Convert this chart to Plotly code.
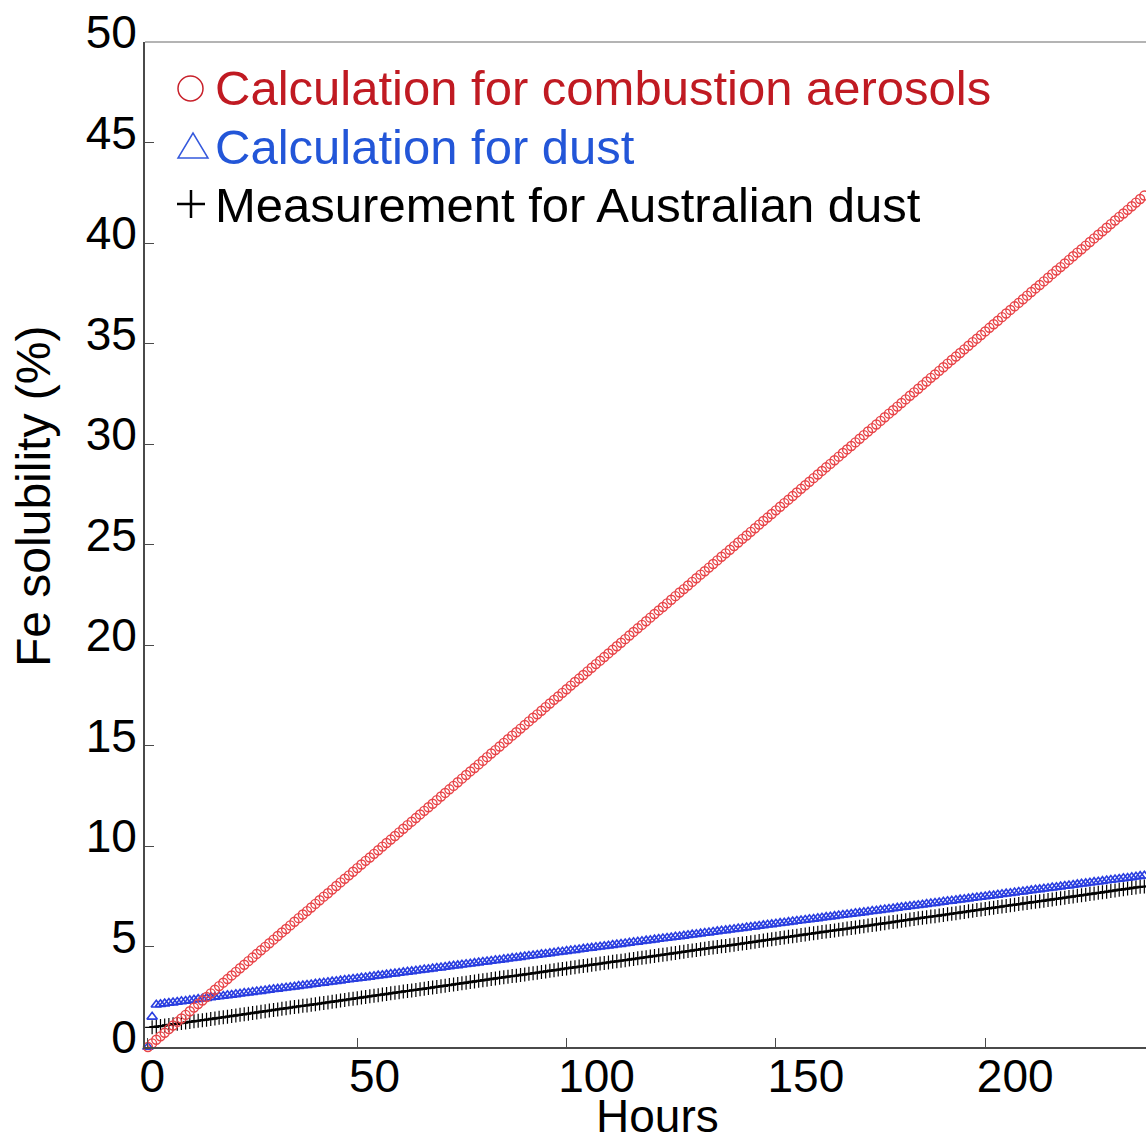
import plotly.graph_objects as go

# ---------------- data ----------------
hours = list(range(241))

combustion = [
    0, 0.18, 0.36, 0.53, 0.71, 0.89, 1.07, 1.25, 1.42, 1.60,
    1.78, 1.96, 2.14, 2.31, 2.49, 2.67, 2.85, 3.03, 3.20, 3.38,
    3.56, 3.74, 3.92, 4.09, 4.27, 4.45, 4.63, 4.81, 4.98, 5.16,
    5.34, 5.52, 5.70, 5.87, 6.05, 6.23, 6.41, 6.59, 6.76, 6.94,
    7.12, 7.30, 7.48, 7.65, 7.83, 8.01, 8.19, 8.37, 8.54, 8.72,
    8.90, 9.08, 9.26, 9.43, 9.61, 9.79, 9.97, 10.15, 10.32, 10.50,
    10.68, 10.86, 11.04, 11.21, 11.39, 11.57, 11.75, 11.93, 12.10, 12.28,
    12.46, 12.64, 12.82, 12.99, 13.17, 13.35, 13.53, 13.71, 13.88, 14.06,
    14.24, 14.42, 14.60, 14.77, 14.95, 15.13, 15.31, 15.49, 15.66, 15.84,
    16.02, 16.20, 16.38, 16.55, 16.73, 16.91, 17.09, 17.27, 17.44, 17.62,
    17.80, 17.98, 18.16, 18.33, 18.51, 18.69, 18.87, 19.05, 19.22, 19.40,
    19.58, 19.76, 19.94, 20.11, 20.29, 20.47, 20.65, 20.83, 21.00, 21.18,
    21.36, 21.54, 21.72, 21.89, 22.07, 22.25, 22.43, 22.61, 22.78, 22.96,
    23.14, 23.32, 23.50, 23.67, 23.85, 24.03, 24.21, 24.39, 24.56, 24.74,
    24.92, 25.10, 25.28, 25.45, 25.63, 25.81, 25.99, 26.17, 26.34, 26.52,
    26.70, 26.88, 27.06, 27.23, 27.41, 27.59, 27.77, 27.95, 28.12, 28.30,
    28.48, 28.66, 28.84, 29.01, 29.19, 29.37, 29.55, 29.73, 29.90, 30.08,
    30.26, 30.44, 30.62, 30.79, 30.97, 31.15, 31.33, 31.51, 31.68, 31.86,
    32.04, 32.22, 32.40, 32.57, 32.75, 32.93, 33.11, 33.29, 33.46, 33.64,
    33.82, 34.00, 34.18, 34.35, 34.53, 34.71, 34.89, 35.07, 35.24, 35.42,
    35.60, 35.78, 35.96, 36.13, 36.31, 36.49, 36.67, 36.85, 37.02, 37.20,
    37.38, 37.56, 37.74, 37.91, 38.09, 38.27, 38.45, 38.63, 38.80, 38.98,
    39.16, 39.34, 39.52, 39.69, 39.87, 40.05, 40.23, 40.41, 40.58, 40.76,
    40.94, 41.12, 41.30, 41.47, 41.65, 41.83, 42.01, 42.19, 42.36, 42.54,
    42.72,
]

dust_calc = [
    0, 1.5, 2.10, 2.13, 2.16, 2.19, 2.21, 2.24, 2.27, 2.29,
    2.32, 2.35, 2.38, 2.40, 2.43, 2.46, 2.49, 2.51, 2.54, 2.57,
    2.59, 2.62, 2.65, 2.68, 2.70, 2.73, 2.76, 2.78, 2.81, 2.84,
    2.87, 2.89, 2.92, 2.95, 2.97, 3.00, 3.03, 3.06, 3.08, 3.11,
    3.14, 3.17, 3.19, 3.22, 3.25, 3.27, 3.30, 3.33, 3.36, 3.38,
    3.41, 3.44, 3.46, 3.49, 3.52, 3.55, 3.57, 3.60, 3.63, 3.65,
    3.68, 3.71, 3.74, 3.76, 3.79, 3.82, 3.85, 3.87, 3.90, 3.93,
    3.95, 3.98, 4.01, 4.04, 4.06, 4.09, 4.12, 4.14, 4.17, 4.20,
    4.23, 4.25, 4.28, 4.31, 4.33, 4.36, 4.39, 4.42, 4.44, 4.47,
    4.50, 4.53, 4.55, 4.58, 4.61, 4.63, 4.66, 4.69, 4.72, 4.74,
    4.77, 4.80, 4.82, 4.85, 4.88, 4.91, 4.93, 4.96, 4.99, 5.01,
    5.04, 5.07, 5.10, 5.12, 5.15, 5.18, 5.21, 5.23, 5.26, 5.29,
    5.31, 5.34, 5.37, 5.40, 5.42, 5.45, 5.48, 5.50, 5.53, 5.56,
    5.59, 5.61, 5.64, 5.67, 5.69, 5.72, 5.75, 5.78, 5.80, 5.83,
    5.86, 5.89, 5.91, 5.94, 5.97, 5.99, 6.02, 6.05, 6.08, 6.10,
    6.13, 6.16, 6.18, 6.21, 6.24, 6.27, 6.29, 6.32, 6.35, 6.37,
    6.40, 6.43, 6.46, 6.48, 6.51, 6.54, 6.57, 6.59, 6.62, 6.65,
    6.67, 6.70, 6.73, 6.76, 6.78, 6.81, 6.84, 6.86, 6.89, 6.92,
    6.95, 6.97, 7.00, 7.03, 7.05, 7.08, 7.11, 7.14, 7.16, 7.19,
    7.22, 7.25, 7.27, 7.30, 7.33, 7.35, 7.38, 7.41, 7.44, 7.46,
    7.49, 7.52, 7.54, 7.57, 7.60, 7.63, 7.65, 7.68, 7.71, 7.73,
    7.76, 7.79, 7.82, 7.84, 7.87, 7.90, 7.93, 7.95, 7.98, 8.01,
    8.03, 8.06, 8.09, 8.12, 8.14, 8.17, 8.20, 8.22, 8.25, 8.28,
    8.31, 8.33, 8.36, 8.39, 8.41, 8.44, 8.47, 8.50, 8.52, 8.55,
    8.58,
]

dust_meas = [
    None, 0.98, 1.01, 1.04, 1.07, 1.10, 1.13, 1.16, 1.19, 1.22,
    1.25, 1.28, 1.31, 1.33, 1.36, 1.39, 1.42, 1.45, 1.48, 1.51,
    1.54, 1.57, 1.60, 1.63, 1.66, 1.69, 1.72, 1.75, 1.78, 1.81,
    1.84, 1.87, 1.90, 1.93, 1.96, 1.99, 2.02, 2.05, 2.07, 2.10,
    2.13, 2.16, 2.19, 2.22, 2.25, 2.28, 2.31, 2.34, 2.37, 2.40,
    2.43, 2.46, 2.49, 2.52, 2.55, 2.58, 2.61, 2.64, 2.67, 2.70,
    2.73, 2.76, 2.79, 2.81, 2.84, 2.87, 2.90, 2.93, 2.96, 2.99,
    3.02, 3.05, 3.08, 3.11, 3.14, 3.17, 3.20, 3.23, 3.26, 3.29,
    3.32, 3.35, 3.38, 3.41, 3.44, 3.47, 3.50, 3.53, 3.55, 3.58,
    3.61, 3.64, 3.67, 3.70, 3.73, 3.76, 3.79, 3.82, 3.85, 3.88,
    3.91, 3.94, 3.97, 4.00, 4.03, 4.06, 4.09, 4.12, 4.15, 4.18,
    4.21, 4.24, 4.27, 4.29, 4.32, 4.35, 4.38, 4.41, 4.44, 4.47,
    4.50, 4.53, 4.56, 4.59, 4.62, 4.65, 4.68, 4.71, 4.74, 4.77,
    4.80, 4.83, 4.86, 4.89, 4.92, 4.95, 4.98, 5.01, 5.03, 5.06,
    5.09, 5.12, 5.15, 5.18, 5.21, 5.24, 5.27, 5.30, 5.33, 5.36,
    5.39, 5.42, 5.45, 5.48, 5.51, 5.54, 5.57, 5.60, 5.63, 5.66,
    5.69, 5.72, 5.75, 5.77, 5.80, 5.83, 5.86, 5.89, 5.92, 5.95,
    5.98, 6.01, 6.04, 6.07, 6.10, 6.13, 6.16, 6.19, 6.22, 6.25,
    6.28, 6.31, 6.34, 6.37, 6.40, 6.43, 6.46, 6.49, 6.51, 6.54,
    6.57, 6.60, 6.63, 6.66, 6.69, 6.72, 6.75, 6.78, 6.81, 6.84,
    6.87, 6.90, 6.93, 6.96, 6.99, 7.02, 7.05, 7.08, 7.11, 7.14,
    7.17, 7.20, 7.23, 7.25, 7.28, 7.31, 7.34, 7.37, 7.40, 7.43,
    7.46, 7.49, 7.52, 7.55, 7.58, 7.61, 7.64, 7.67, 7.70, 7.73,
    7.76, 7.79, 7.82, 7.85, 7.88, 7.91, 7.94, 7.97, 7.99, 8.02,
    8.05,
]

series_names = [
    "Calculation for combustion aerosols",
    "Calculation for dust",
    "Measurement for Australian dust",
]
x_tickvals = [0, 50, 100, 150, 200]
x_ticktext = ["0", "50", "100", "150", "200"]
y_tickvals = [0, 5, 10, 15, 20, 25, 30, 35, 40, 45, 50]
x_title = "Hours"
y_title = "Fe solubility (%)"

# ---------------- figure ----------------
FONT = "Liberation Sans, Arial, Helvetica, sans-serif"
W, H = 1146, 1139
ML, MR, MT, MB = 145, 0, 42, 92
PW, PH = W - ML - MR, H - MT - MB


def px(xp):
    return (xp - ML) / PW


def py(yp):
    return (H - MB - yp) / PH


NBSP = "\u00a0"
# pad labels so they line up (left-ish) like the original
padded = [t + NBSP * (2 * (3 - len(t))) for t in x_ticktext]

fig = go.Figure()

fig.add_trace(go.Scatter(
    x=hours, y=dust_meas, mode="lines+markers", name=series_names[2],
    line=dict(color="#333333", width=2),
    marker=dict(symbol="cross-thin-open", size=10, color="black",
                line=dict(color="black", width=1.2)),
    cliponaxis=False, showlegend=False,
))
fig.add_trace(go.Scatter(
    x=hours, y=dust_calc, mode="markers", name=series_names[1],
    marker=dict(symbol="triangle-up-open", size=9, color="#2a3ee0",
                line=dict(color="#2a3ee0", width=1.6)),
    cliponaxis=False, showlegend=False,
))
fig.add_trace(go.Scatter(
    x=hours, y=combustion, mode="markers", name=series_names[0],
    marker=dict(symbol="circle-open", size=9, color="#e84448",
                line=dict(color="#e84448", width=1.4)),
    cliponaxis=False, showlegend=False,
))

shapes = [
    # light top frame line
    dict(type="line", xref="paper", yref="paper", x0=0, x1=1, y0=1, y1=1,
         line=dict(color="#b4b4b4", width=2)),
    # legend symbols
    dict(type="circle", xref="paper", yref="paper",
         x0=px(178), x1=px(203), y0=py(101), y1=py(76),
         line=dict(color="#c8202a", width=1.5)),
    dict(type="path", xref="paper", yref="paper",
         path=f"M {px(178)} {py(158)} L {px(208)} {py(158)} L {px(193)} {py(133)} Z",
         line=dict(color="#3559dd", width=1.5)),
    dict(type="line", xref="paper", yref="paper",
         x0=px(177), x1=px(205), y0=py(204), y1=py(204),
         line=dict(color="black", width=2.5)),
    dict(type="line", xref="paper", yref="paper",
         x0=px(191), x1=px(191), y0=py(190), y1=py(218),
         line=dict(color="black", width=2.5)),
]

legend_colors = ["#c01a22", "#2356d8", "black"]
legend_y = [88, 147, 205]
annotations = []
for name, col, yy in zip(series_names, legend_colors, legend_y):
    annotations.append(dict(
        text=name, xref="paper", yref="paper", x=px(213), y=py(yy),
        xanchor="left", yanchor="middle", showarrow=False,
        font=dict(family=FONT, size=49, color=col)))

annotations.append(dict(
    text=x_title, xref="paper", yref="paper", x=px(657), y=py(1116),
    xanchor="center", yanchor="middle", showarrow=False,
    font=dict(family=FONT, size=46, color="black")))
annotations.append(dict(
    text=y_title, xref="paper", yref="paper", x=px(33), y=py(497),
    xanchor="center", yanchor="middle", showarrow=False, textangle=-90,
    font=dict(family=FONT, size=48, color="black")))

fig.update_layout(
    width=W, height=H, autosize=False,
    margin=dict(l=ML, r=MR, t=MT, b=MB, pad=0),
    paper_bgcolor="white", plot_bgcolor="white",
    showlegend=False,
    shapes=shapes, annotations=annotations,
    xaxis=dict(
        range=[-0.7, 238.4], showgrid=False, zeroline=False,
        showline=True, linecolor="#4a4a4a", linewidth=2,
        ticks="inside", ticklen=9, tickwidth=1, tickcolor="#4a4a4a",
        tickvals=x_tickvals, ticktext=padded,
        ticklabelshift=30, ticklabelstandoff=-12,
        tickfont=dict(family=FONT, size=46, color="black"),
    ),
    yaxis=dict(
        range=[0, 50], showgrid=False, zeroline=False,
        showline=True, linecolor="#4a4a4a", linewidth=2,
        ticks="inside", ticklen=9, tickwidth=1, tickcolor="#4a4a4a",
        tickvals=y_tickvals,
        ticklabelshift=-10, ticklabelstandoff=-3,
        tickfont=dict(family=FONT, size=46, color="black"),
    ),
)

fig.write_html("out.html")
